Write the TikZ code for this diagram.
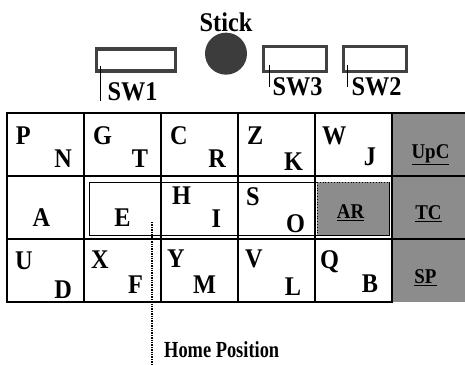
\documentclass[tikz,border=0pt]{standalone}
\usepackage{xcolor}
\usepackage{tikz}
\usepackage{fontspec}
\setmainfont{Liberation Serif}
\newfontfamily\condfont[FakeStretch=0.9]{Liberation Serif}
\newfontfamily\narrowfont[FakeStretch=0.8]{Liberation Serif}
\usetikzlibrary{positioning, calc}
\definecolor{keygray}{RGB}{140,140,140}
\definecolor{stickgray}{RGB}{60,60,60}
\definecolor{swgray}{RGB}{65,65,65}
\newcommand{\keyfont}{\condfont\bfseries\fontsize{27}{27}\selectfont}
\newcommand{\swfont}{\condfont\bfseries\fontsize{27}{27}\selectfont}
\newcommand{\fnfont}{\condfont\bfseries\fontsize{21}{21}\selectfont}
\newcommand{\homefont}{\narrowfont\bfseries\fontsize{23}{23}\selectfont}

\begin{document}
\begin{tikzpicture}[
    x=1pt, y=-1pt,
    cell/.style={rectangle, draw=black, line width=2.8pt, fill=white, minimum width=77pt, minimum height=63pt, outer sep=0pt, inner sep=0pt},
    fcell/.style={rectangle, fill=keygray, minimum width=73pt, minimum height=63pt, outer sep=0pt, inner sep=0pt},
    key/.style={inner sep=0pt, outer sep=0pt, font=\keyfont},
    fkey/.style={inner sep=0pt, outer sep=0pt, font=\fnfont},
    swbox/.style={rectangle, draw=swgray, line width=3.2pt, fill=white, minimum width=63pt, minimum height=25pt, outer sep=0pt},
    swlbl/.style={inner sep=0pt, outer sep=0pt, font=\swfont},
    lead/.style={line width=1pt},
    homeline/.style={densely dotted, line width=1.4pt}
]
    \useasboundingbox (0,0) rectangle (465,364);

    \node[inner sep=0pt, font=\swfont, anchor=base] (sticklbl) at (226,31) {Stick};
    \node[circle, fill=stickgray, minimum size=42pt, inner sep=0pt, below=1pt of sticklbl] (stick) {};

    \node[swbox, minimum width=79pt, minimum height=22pt] (sw1box) at (136,60) {};
    \node[swbox] (sw3box) at (295,59) {};
    \node[swbox, right=17pt of sw3box] (sw2box) {};

    \node[swlbl, below right=12pt and 11pt of sw1box.south west] (sw1) {SW1};
    \node[swlbl, below right=6pt and 9pt of sw3box.south west] (sw3) {SW3};
    \node[swlbl, below right=6pt and 8pt of sw2box.south west] (sw2) {SW2};

    \draw[lead] ([shift={(4pt,5pt)}]sw1box.south west) -- ([xshift=4pt]sw1box.south west |- sw1.south);
    \draw[lead] ([shift={(6pt,7pt)}]sw3box.south west) -- ([xshift=6pt]sw3box.south west |- sw3.west);
    \draw[lead] ([shift={(4pt,7pt)}]sw2box.south west) -- ([xshift=4pt]sw2box.south west |- sw2.west);

    \node[fcell] (upc) at (428.5,144.5) {};
    \node[fcell] (tc) at (428.5,207.5) {};
    \node[fcell] (sp) at (428.5,270.5) {};

    \node[cell] (c11) at (45.5,144.5) {};
    \node[cell, right=0pt of c11] (c12) {};
    \node[cell, right=0pt of c12] (c13) {};
    \node[cell, right=0pt of c13] (c14) {};
    \node[cell, right=0pt of c14] (c15) {};
    \node[cell, below=0pt of c11] (c21) {};
    \node[cell, right=0pt of c21] (c22) {};
    \node[cell, right=0pt of c22] (c23) {};
    \node[cell, right=0pt of c23] (c24) {};
    \node[cell, right=0pt of c24] (c25) {};
    \node[cell, below=0pt of c21] (c31) {};
    \node[cell, right=0pt of c31] (c32) {};
    \node[cell, right=0pt of c32] (c33) {};
    \node[cell, right=0pt of c33] (c34) {};
    \node[cell, right=0pt of c34] (c35) {};

    \draw[line width=2.8pt] (upc.north west) -- (upc.north east);
    \draw[line width=2.8pt] (upc.south west) -- (upc.south east);
    \draw[line width=2.8pt] (tc.south west) -- (tc.south east);

    \draw[line width=0.8pt] ([shift={(5pt,-6pt)}]c22.north west) rectangle ([shift={(-3pt,4pt)}]c25.south east);
    \draw[dotted, line width=0.8pt, fill=keygray] ([shift={(2pt,-6pt)}]c25.north west) rectangle ([shift={(-3pt,4pt)}]c25.south east);

    \node[key, below right=14pt and 9pt of c11.north west] {P};
    \node[key, above left=9pt and 12pt of c11.south east] {N};
    \node[key, below right=14pt and 9pt of c12.north west] {G};
    \node[key, above left=9pt and 13pt of c12.south east] {T};
    \node[key, below right=14pt and 9pt of c13.north west] {C};
    \node[key, above left=9pt and 12pt of c13.south east] {R};
    \node[key, below right=14pt and 9pt of c14.north west] {Z};
    \node[key, above left=6pt and 12pt of c14.south east] {K};
    \node[key, below right=14pt and 7pt of c15.north west] {W};
    \node[key, above left=10pt and 16pt of c15.south east] {J};

    \node[key, above=13pt of c21.south, xshift=-4pt] {A};
    \node[key, above=13pt of c22.south] {E};
    \node[key, below right=11pt and 11pt of c23.north west] {H};
    \node[key, above left=12pt and 17pt of c23.south east] {I};
    \node[key, below right=12pt and 8pt of c24.north west] {S};
    \node[key, above left=6pt and 10pt of c24.south east] {O};
    \node[fkey] (ar) at ([shift={(-3pt,-5.5pt)}]c25.center) {\underline{AR}};

    \node[key, below right=13pt and 8pt of c31.north west] {U};
    \node[key, above left=3pt and 12pt of c31.south east] {D};
    \node[key, below right=12pt and 7pt of c32.north west] {X};
    \node[key, above left=9pt and 18pt of c32.south east] {F};
    \node[key, below right=11pt and 6pt of c33.north west] {Y};
    \node[key, above left=9pt and 22pt of c33.south east] {M};
    \node[key, above left=7pt and 14pt of c34.south east] {L};
    \node[key, below right=11pt and 7pt of c34.north west] {V};
    \node[key, below right=12pt and 5pt of c35.north west] {Q};
    \node[key, above left=9pt and 14pt of c35.south east] {B};

    \node[fkey] (upclbl) at ([shift={(2pt,-10.5pt)}]upc.center) {\underline{UpC}};
    \node[fkey] (tclbl) at ([yshift=-6pt]tc.center) {\underline{TC}};
    \node[fkey] (splbl) at ([shift={(-3pt,-7pt)}]sp.center) {\underline{SP}};

    \coordinate (home) at (152,222);
    \coordinate (homeend) at (152,364);
    \draw[homeline] (home) -- (homeend);
    \node[inner sep=0pt, font=\homefont, anchor=base west] (homelbl) at (164,357) {Home Position};

\end{tikzpicture}
\end{document}
